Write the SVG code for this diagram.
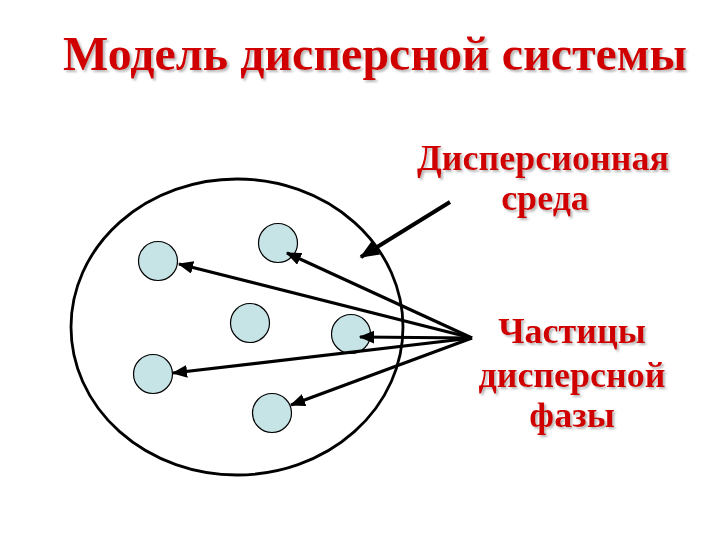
<svg xmlns="http://www.w3.org/2000/svg" width="720" height="540" viewBox="0 0 720 540">
  <defs>
    <filter id="sh" x="-5%" y="-20%" width="110%" height="140%">
      <feDropShadow dx="2" dy="2" stdDeviation="1" flood-color="#999" flood-opacity="0.7"/>
    </filter>
    <marker id="ah" viewBox="0 0 12 10" refX="11" refY="5" markerWidth="4.8" markerHeight="4" markerUnits="strokeWidth" orient="auto">
      <path d="M0,0 L12,5 L0,10 z" fill="#000"/>
    </marker>
  </defs>
  <style>
    .lbl { font-family: "Liberation Serif", "Times New Roman", serif; font-weight: bold; fill: #d10000; text-anchor: middle; }
    .particle { fill: #c6e3e6; stroke: #000; stroke-width: 1.2; }
    .arr { stroke: #000; stroke-width: 3.2; fill: none; marker-end: url(#ah); }
  </style>
  <rect width="720" height="540" fill="#fff"/>
  <g id="title" filter="url(#sh)">
    <text class="lbl" x="375" y="70" font-size="48">Модель дисперсной системы</text>
  </g>
  <g id="system">
    <ellipse cx="237" cy="327" rx="166" ry="148" fill="none" stroke="#000" stroke-width="2.8"/>
  </g>
  <g id="particles">
    <circle id="p1" class="particle" cx="158" cy="261" r="19.5"/>
    <circle id="p2" class="particle" cx="278" cy="243" r="19.5"/>
    <circle id="p3" class="particle" cx="250" cy="323" r="19.5"/>
    <circle id="p4" class="particle" cx="351" cy="334" r="19.5"/>
    <circle id="p5" class="particle" cx="153" cy="374" r="19.5"/>
    <circle id="p6" class="particle" cx="272" cy="413" r="19.5"/>
  </g>
  <g id="label-medium" filter="url(#sh)">
    <text class="lbl" x="543" y="170" font-size="36">Дисперсионная</text>
    <text class="lbl" x="545" y="210" font-size="36">среда</text>
  </g>
  <g id="label-particles" filter="url(#sh)">
    <text class="lbl" x="572" y="343" font-size="36">Частицы</text>
    <text class="lbl" x="572" y="387" font-size="36">дисперсной</text>
    <text class="lbl" x="572" y="427" font-size="36">фазы</text>
  </g>
  <g id="connectors">
    <line class="arr" x1="450" y1="202" x2="361" y2="257" style="stroke-width:4"/>
    <line class="arr" x1="472" y1="338" x2="179" y2="264"/>
    <line class="arr" x1="472" y1="338" x2="287" y2="253"/>
    <line class="arr" x1="472" y1="338" x2="360" y2="337"/>
    <line class="arr" x1="472" y1="338" x2="173" y2="373"/>
    <line class="arr" x1="472" y1="338" x2="291" y2="405"/>
  </g>
</svg>
